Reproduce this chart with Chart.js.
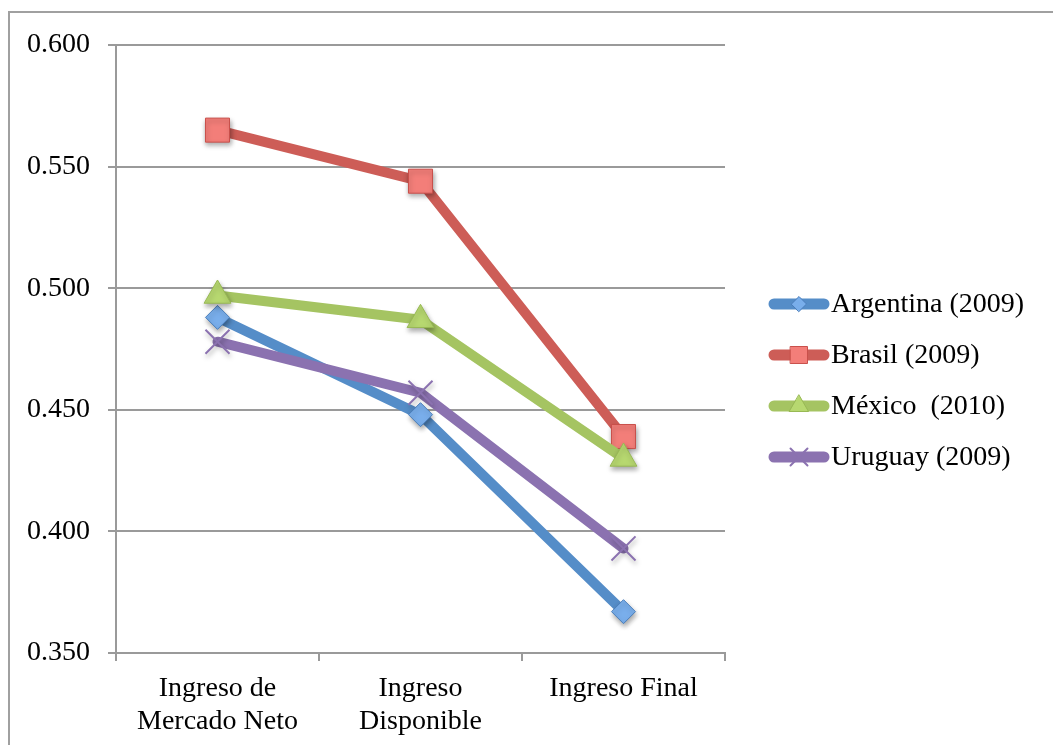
<!DOCTYPE html>
<html>
<head>
<meta charset="utf-8">
<script src="https://cdn.jsdelivr.net/npm/chart.js@4/dist/chart.umd.min.js"></script>
<style>
  html, body { margin: 0; padding: 0; background: #fff; }
  #wrap { position: absolute; left: 0; top: 0; width: 1053px; height: 745px; }
</style>
</head>
<body>
<div id="wrap"><canvas id="c" width="1053" height="745"></canvas></div>
<script>
// Income stages (x axis)
const categories = [['Ingreso de', 'Mercado Neto'], ['Ingreso', 'Disponible'], 'Ingreso Final'];

// Gini coefficient by income stage
const seriesNames = ['Argentina (2009)', 'Brasil (2009)', 'México  (2010)', 'Uruguay (2009)'];
const argentina = [0.488, 0.448, 0.367];
const brasil    = [0.565, 0.544, 0.439];
const mexico    = [0.497, 0.487, 0.430];
const uruguay   = [0.478, 0.457, 0.393];

// Y axis range and step
const yMin = 0.35, yMax = 0.60, yStep = 0.05;

const FONT = '"Liberation Serif", serif';
const FSIZE = 28;
const GRID = '#9a9a9a';

const styles = [
  { line: '#558DC8', fill: '#79AEEB', edge: '#4A7EBB', point: 'rectRot',  r: 12, lr: 7.5 },
  { line: '#CD5D57', fill: '#F37E79', edge: '#C9504B', point: 'rect',     r: 17, lr: 12 },
  { line: '#A5C462', fill: '#B7D870', edge: '#98B954', point: 'triangle', r: 15.5, lr: 11 },
  { line: '#8B72B0', fill: '#8B72B0', edge: '#8B72B0', point: 'crossRot', r: 17, lr: 12 }
];
const values = [argentina, brasil, mexico, uruguay];

const datasets = values.map((v, i) => ({
  label: seriesNames[i],
  data: v,
  borderColor: styles[i].line,
  borderWidth: 10,
  borderCapStyle: 'round',
  borderJoinStyle: 'round',
  pointStyle: styles[i].point,
  pointRadius: styles[i].r,
  pointHoverRadius: styles[i].r,
  pointBackgroundColor: styles[i].fill,
  pointBorderColor: styles[i].edge,
  pointBorderWidth: styles[i].point === 'crossRot' ? 2 : 1,
  tension: 0,
  order: values.length - i
}));

// Outer frame of the chart
const framePlugin = {
  id: 'frame',
  beforeDraw(chart) {
    const ctx = chart.ctx;
    ctx.save();
    ctx.strokeStyle = '#a0a0a0';
    ctx.lineWidth = 2;
    ctx.beginPath();
    ctx.moveTo(9, 746);
    ctx.lineTo(9, 12);
    ctx.lineTo(1060, 12);
    ctx.stroke();
    ctx.restore();
  }
};

// Drop shadow under the markers
const shadowPlugin = {
  id: 'markerShadow',
  beforeDatasetDraw(chart, args) {
    const meta = args.meta;
    const ctx = chart.ctx;
    // line first, without shadow
    meta.dataset.draw(ctx, chart.chartArea);
    ctx.save();
    ctx.shadowColor = 'rgba(0,0,0,0.35)';
    ctx.shadowBlur = 5;
    ctx.shadowOffsetX = 1;
    ctx.shadowOffsetY = 3;
    meta.data.forEach(p => p.draw(ctx, chart.chartArea));
    ctx.restore();
    return false;
  }
};

// Legend: thick line with the series marker, then the label
const legendPlugin = {
  id: 'sideLegend',
  afterDraw(chart) {
    const ctx = chart.ctx;
    const x0 = 769, x1 = 829, tx = 831;
    const rows = [304, 355, 406, 457];
    ctx.save();
    chart.data.datasets.forEach((ds, i) => {
      const y = rows[i];
      ctx.strokeStyle = ds.borderColor;
      ctx.lineWidth = 11;
      ctx.lineCap = 'round';
      ctx.beginPath();
      ctx.moveTo(x0 + 5, y);
      ctx.lineTo(x1 - 5, y);
      ctx.stroke();
      ctx.fillStyle = ds.pointBackgroundColor;
      ctx.strokeStyle = ds.pointBorderColor;
      ctx.lineWidth = ds.pointBorderWidth;
      Chart.helpers.drawPoint(ctx, { pointStyle: ds.pointStyle, radius: styles[i].lr, rotation: 0, borderWidth: ds.pointBorderWidth }, (x0 + x1) / 2, y);
      ctx.fillStyle = '#000';
      ctx.font = FSIZE + 'px ' + FONT;
      ctx.textBaseline = 'middle';
      ctx.textAlign = 'left';
      ctx.fillText(ds.label, tx, y + 1);
    });
    ctx.restore();
  }
};

new Chart(document.getElementById('c'), {
  type: 'line',
  data: { labels: categories, datasets },
  plugins: [framePlugin, shadowPlugin, legendPlugin],
  options: {
    responsive: false,
    animation: false,
    events: [],
    layout: { padding: { left: 0, top: 45, right: 328, bottom: 0 } },
    plugins: { legend: { display: false }, tooltip: { enabled: false } },
    scales: {
      x: {
        offset: true,
        grid: { offset: true, drawOnChartArea: false, color: GRID, lineWidth: 2, tickLength: 8 },
        border: { color: GRID, width: 2 },
        ticks: { color: '#000', font: { family: FONT, size: FSIZE, lineHeight: 1.15 }, padding: 12, maxRotation: 0 },
        afterFit(s) { s.height = 92; }
      },
      y: {
        min: yMin, max: yMax,
        grid: { color: GRID, lineWidth: 2, tickLength: 8 },
        border: { color: GRID, width: 2 },
        ticks: {
          stepSize: yStep,
          color: '#000',
          font: { family: FONT, size: FSIZE },
          padding: 18,
          callback: v => v.toFixed(3)
        },
        afterFit(s) { s.width = 116; }
      }
    }
  }
});
</script>
</body>
</html>
